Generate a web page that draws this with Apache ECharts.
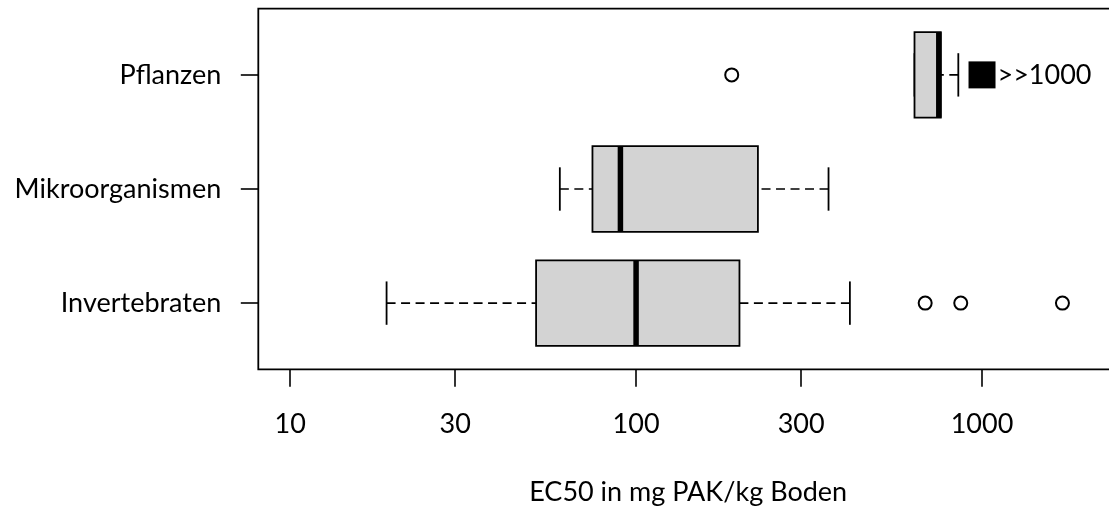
<!DOCTYPE html>
<html>
<head>
<meta charset="utf-8">
<style>
  html, body { margin: 0; padding: 0; background: #ffffff; }
  #chart { width: 1109px; height: 509px; }
</style>
<script src="https://cdn.jsdelivr.net/npm/echarts@6/dist/echarts.min.js"></script>
</head>
<body>
<div id="chart"></div>
<script>
// Groups, bottom to top
const categories = ['Invertebraten', 'Mikroorganismen', 'Pflanzen'];

// Five-number summaries per group (mg PAK/kg Boden)
const whiskerLow  = [19,   60.2, 638];
const quartile1   = [51.4, 74.8, 638];
const medians     = [100,  90.1, 750];
const quartile3   = [199,  225,  760];
const whiskerHigh = [415,  360,  854];

// Outlying single values
const outlierGroup  = ['Invertebraten', 'Invertebraten', 'Invertebraten', 'Pflanzen'];
const outlierValues = [685, 868, 1708, 189];

// Values above the tested range
const censoredGroup  = ['Pflanzen'];
const censoredValues = [1000];
const censoredLabels = ['>>1000'];

// Axis
const xTicks = [10, 30, 100, 300, 1000];
const xLimits = [10, 2000];
const axisTitle = 'EC50 in mg PAK/kg Boden';

const FONT = 'Lato';
const FONT_SIZE = 27;

// 4% padding on both axes, log space for x
const lx0 = Math.log10(xLimits[0]), lx1 = Math.log10(xLimits[1]);
const padX = 0.04 * (lx1 - lx0);
const xMin = Math.pow(10, lx0 - padX);
const xMax = Math.pow(10, lx1 + padX);
const padY = 0.04 * (categories.length - 0.5 - 0.5);
const yMin = 0.5 - padY;
const yMax = categories.length + 0.5 + padY;
const yPos = name => categories.indexOf(name) + 1;

const boxData = categories.map((c, i) =>
  [i + 1, whiskerLow[i], quartile1[i], medians[i], quartile3[i], whiskerHigh[i]]);

const BOX_HALF = 0.375;
const CAP_HALF = 0.19;

function renderBox(params, api) {
  const y = api.value(0);
  const lo = api.value(1), q1 = api.value(2), md = api.value(3), q3 = api.value(4), hi = api.value(5);
  const c = v => api.coord([v, y]);
  const top = api.coord([q1, y + BOX_HALF])[1];
  const bot = api.coord([q1, y - BOX_HALF])[1];
  const capTop = api.coord([q1, y + CAP_HALF])[1];
  const capBot = api.coord([q1, y - CAP_HALF])[1];
  const pLo = c(lo), pQ1 = c(q1), pMd = c(md), pQ3 = c(q3), pHi = c(hi);
  const cy = pLo[1];
  const dashed = { stroke: '#000', lineWidth: 1.6, lineDash: [9, 5.5], fill: null };
  const solid = { stroke: '#000', lineWidth: 1.8, fill: null };
  const children = [];
  if (pQ1[0] - pLo[0] > 0.5) {
    children.push({ type: 'line', shape: { x1: pLo[0], y1: cy, x2: pQ1[0], y2: cy }, style: dashed });
  }
  if (pHi[0] - pQ3[0] > 0.5) {
    children.push({ type: 'line', shape: { x1: pHi[0], y1: cy, x2: pQ3[0], y2: cy }, style: dashed });
  }
  children.push({ type: 'line', shape: { x1: pLo[0], y1: capTop, x2: pLo[0], y2: capBot }, style: solid });
  children.push({ type: 'line', shape: { x1: pHi[0], y1: capTop, x2: pHi[0], y2: capBot }, style: solid });
  children.push({
    type: 'rect',
    shape: { x: pQ1[0], y: top, width: pQ3[0] - pQ1[0], height: bot - top },
    style: { fill: '#d3d3d3', stroke: '#000', lineWidth: 1.8 }
  });
  children.push({ type: 'line', shape: { x1: pMd[0], y1: top, x2: pMd[0], y2: bot },
    style: { stroke: '#000', lineWidth: 5.5 } });
  return { type: 'group', children };
}

const chart = echarts.init(document.getElementById('chart'), null, { renderer: 'canvas' });
chart.setOption({
  animation: false,
  backgroundColor: '#ffffff',
  grid: {
    show: true, left: 258.3, top: 8.7, right: -9, bottom: 139.7,
    outerBoundsMode: 'none', containLabel: false,
    borderColor: '#000', borderWidth: 1.8, backgroundColor: 'transparent'
  },
  xAxis: {
    type: 'log', logBase: 10, min: xMin, max: xMax,
    axisLine: { show: false },
    splitLine: { show: false },
    axisTick: { show: true, length: 17.5, customValues: xTicks, lineStyle: { color: '#000', width: 1.6 } },
    axisLabel: { customValues: xTicks, margin: 41, color: '#000', fontFamily: FONT, fontSize: FONT_SIZE,
      formatter: v => String(Math.round(v)) },
    name: axisTitle, nameLocation: 'middle', nameGap: 109,
    nameTextStyle: { color: '#000', fontFamily: FONT, fontSize: FONT_SIZE }
  },
  yAxis: {
    type: 'value', min: yMin, max: yMax,
    axisLine: { show: false },
    splitLine: { show: false },
    axisTick: { show: true, length: 17.5, customValues: [1, 2, 3], lineStyle: { color: '#000', width: 1.6 } },
    axisLabel: { customValues: [1, 2, 3], margin: 37, color: '#000', fontFamily: FONT, fontSize: FONT_SIZE,
      formatter: v => categories[Math.round(v) - 1] || '' }
  },
  series: [
    {
      type: 'custom',
      renderItem: renderBox,
      encode: { x: [1, 2, 3, 4, 5], y: 0 },
      data: boxData,
      z: 2
    },
    {
      type: 'scatter',
      symbol: 'emptyCircle', symbolSize: 13,
      itemStyle: { color: '#000', borderColor: '#000', borderWidth: 1.6, opacity: 1 },
      data: outlierValues.map((v, i) => [v, yPos(outlierGroup[i])]),
      z: 3
    },
    {
      type: 'scatter',
      symbol: 'rect', symbolSize: 27,
      itemStyle: { color: '#000', opacity: 1 },
      label: {
        show: true, position: 'right', distance: 2, color: '#000',
        fontFamily: FONT, fontSize: FONT_SIZE,
        formatter: p => censoredLabels[p.dataIndex]
      },
      data: censoredValues.map((v, i) => [v, yPos(censoredGroup[i])]),
      z: 3
    }
  ]
});
</script>
</body>
</html>
